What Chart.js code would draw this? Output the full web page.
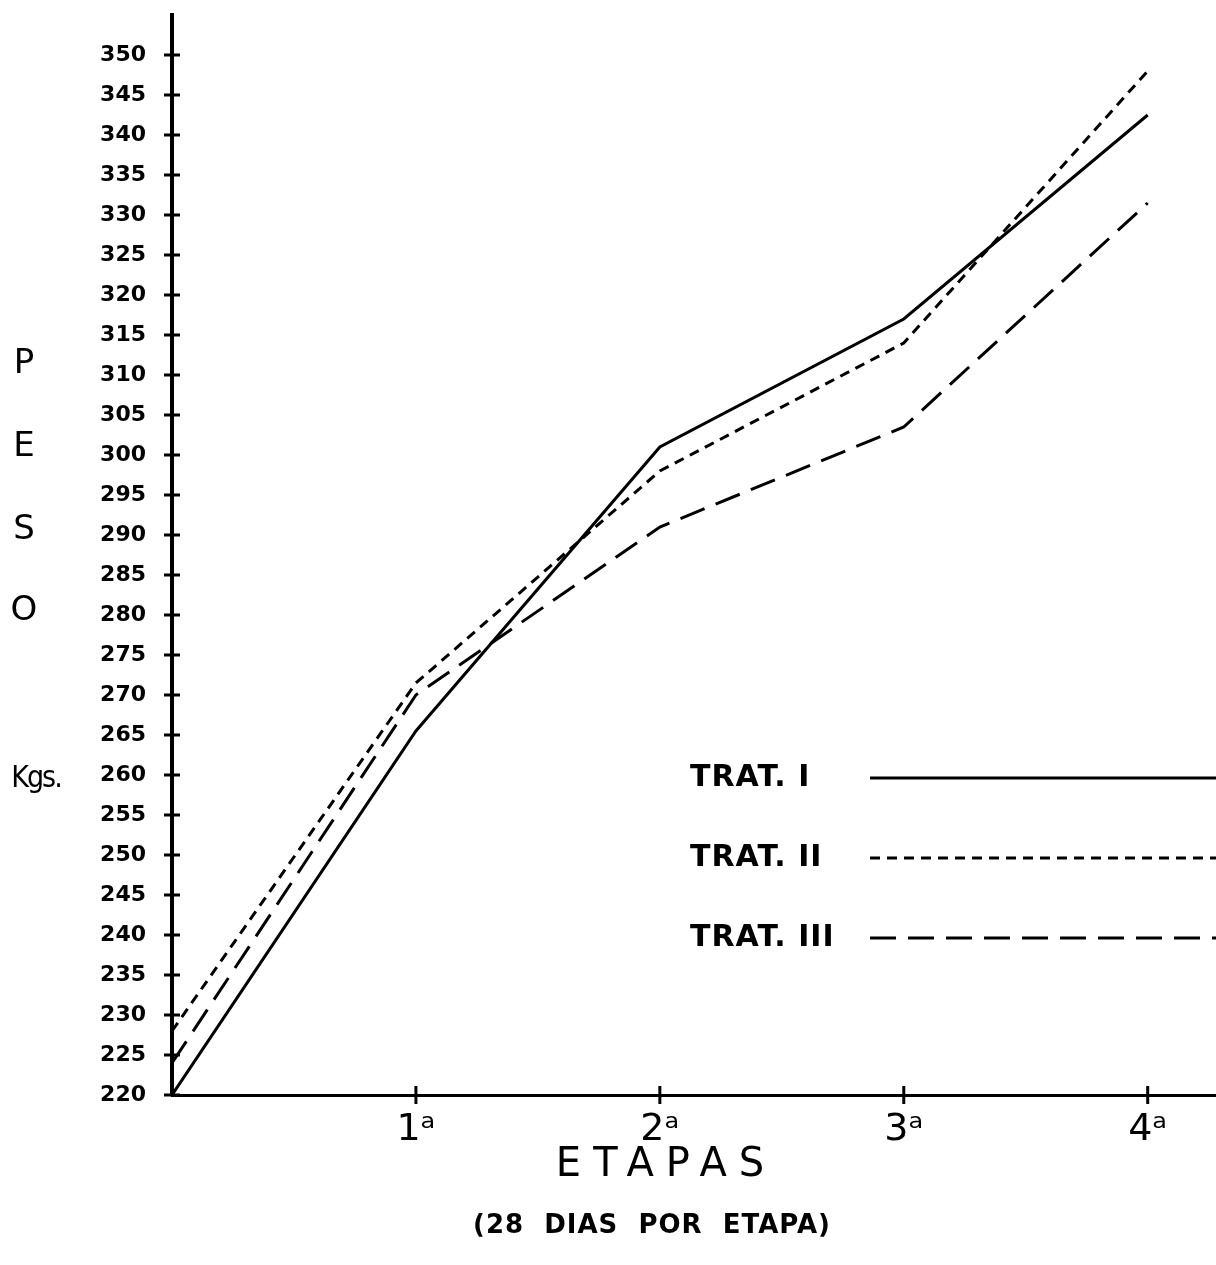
<!DOCTYPE html>
<html>
<head>
<meta charset="utf-8">
<script src="https://cdn.jsdelivr.net/npm/chart.js@4/dist/chart.umd.min.js"></script>
<style>
  html, body { margin: 0; padding: 0; background: #fff; }
  #wrap { width: 1216px; height: 1265px; position: relative; }
</style>
</head>
<body>
<div id="wrap"><canvas id="peso"></canvas></div>
<script>
// etapas (0 = inicio)
const etapas = [0, 1, 2, 3, 4]
const etapaLabels = ['', '1ᵃ', '2ᵃ', '3ᵃ', '4ᵃ']
const yTicks = [220, 225, 230, 235, 240, 245, 250, 255, 260, 265, 270, 275, 280, 285, 290,
  295, 300, 305, 310, 315, 320, 325, 330, 335, 340, 345, 350]

const tratNames = ['TRAT. I', 'TRAT. II', 'TRAT. III']
const trat1 = [220, 265.5, 301, 317, 342.5]
const trat2 = [228, 271.5, 298, 314, 348]
const trat3 = [224, 270, 291, 303.5, 331.5]

const dashes = [[], [10, 7], [26, 12]]
const FONT = '"DejaVu Sans", sans-serif'

const pts = arr => arr.map((v, i) => ({ x: etapas[i], y: v }))

// tick crosses, axis letters, legend
const decor = {
  id: 'decor',
  afterDraw(c) {
    const ctx = c.ctx, ca = c.chartArea
    const xs = c.scales.x, ys = c.scales.y
    ctx.save()
    ctx.strokeStyle = '#000'
    ctx.lineWidth = 3
    yTicks.forEach(v => {
      const y = ys.getPixelForValue(v)
      ctx.beginPath(); ctx.moveTo(ca.left - 8, y); ctx.lineTo(ca.left + 8, y); ctx.stroke()
    })
    etapas.slice(1).forEach(v => {
      const x = xs.getPixelForValue(v)
      ctx.beginPath(); ctx.moveTo(x, ca.bottom - 9); ctx.lineTo(x, ca.bottom + 9); ctx.stroke()
    })

    ctx.fillStyle = '#000'
    ctx.textAlign = 'center'
    ctx.textBaseline = 'middle'
    ctx.font = '34px ' + FONT
    ;['P', 'E', 'S', 'O'].forEach((l, i) => ctx.fillText(l, 24, [364, 447, 530, 611][i]))
    ctx.font = '30px "DejaVu Sans Condensed", ' + FONT
    ctx.letterSpacing = '-2px'
    ctx.fillText('Kgs.', 36, 779)

    ctx.letterSpacing = '12px'
    ctx.font = '40px ' + FONT
    ctx.fillText('ETAPAS', 666, 1166)
    ctx.letterSpacing = '1px'
    ctx.font = 'bold 26px ' + FONT
    ctx.fillText('(28  DIAS  POR  ETAPA)', 652, 1226)

    // legend
    ctx.textAlign = 'left'
    ctx.letterSpacing = '1px'
    ctx.font = 'bold 30px ' + FONT
    tratNames.forEach((n, i) => {
      const y = 778 + i * 80
      ctx.fillText(n, 690, y)
      ctx.setLineDash(dashes[i])
      ctx.lineWidth = 3
      ctx.beginPath(); ctx.moveTo(870, y); ctx.lineTo(ca.right, y); ctx.stroke()
    })
    ctx.restore()
  }
}

new Chart(document.getElementById('peso'), {
  type: 'line',
  data: {
    datasets: [trat1, trat2, trat3].map((d, i) => ({
      label: tratNames[i],
      data: pts(d),
      borderColor: '#000',
      borderWidth: 3,
      borderDash: dashes[i],
      pointRadius: 0,
      fill: false,
      tension: 0
    }))
  },
  options: {
    responsive: true,
    maintainAspectRatio: false,
    devicePixelRatio: 1,
    animation: false,
    layout: { padding: { top: 15, left: 0, right: 0, bottom: 0 } },
    plugins: { legend: { display: false }, tooltip: { enabled: false } },
    scales: {
      x: {
        type: 'linear',
        min: 0,
        max: 4.28,
        afterBuildTicks: a => { a.ticks = etapas.slice(1).map(v => ({ value: v })) },
        afterFit: a => { a.height = 170; a.paddingLeft = 0; a.paddingRight = 0 },
        grid: { display: false, drawTicks: false },
        border: { display: true, color: '#000', width: 3 },
        ticks: {
          color: '#000',
          padding: 12,
          maxRotation: 0,
          font: { family: FONT, size: 38 },
          callback: v => etapaLabels[v] || ''
        }
      },
      y: {
        min: 220,
        max: 355,
        afterBuildTicks: a => { a.ticks = yTicks.map(v => ({ value: v })) },
        afterFit: a => { a.width = 172; a.paddingTop = 0; a.paddingBottom = 0 },
        grid: { display: false, drawTicks: false },
        border: { display: true, color: '#000', width: 4 },
        ticks: {
          color: '#000',
          padding: 26,
          font: { family: FONT, size: 22, weight: 'bold' }
        }
      }
    }
  },
  plugins: [decor]
})
</script>
</body>
</html>
